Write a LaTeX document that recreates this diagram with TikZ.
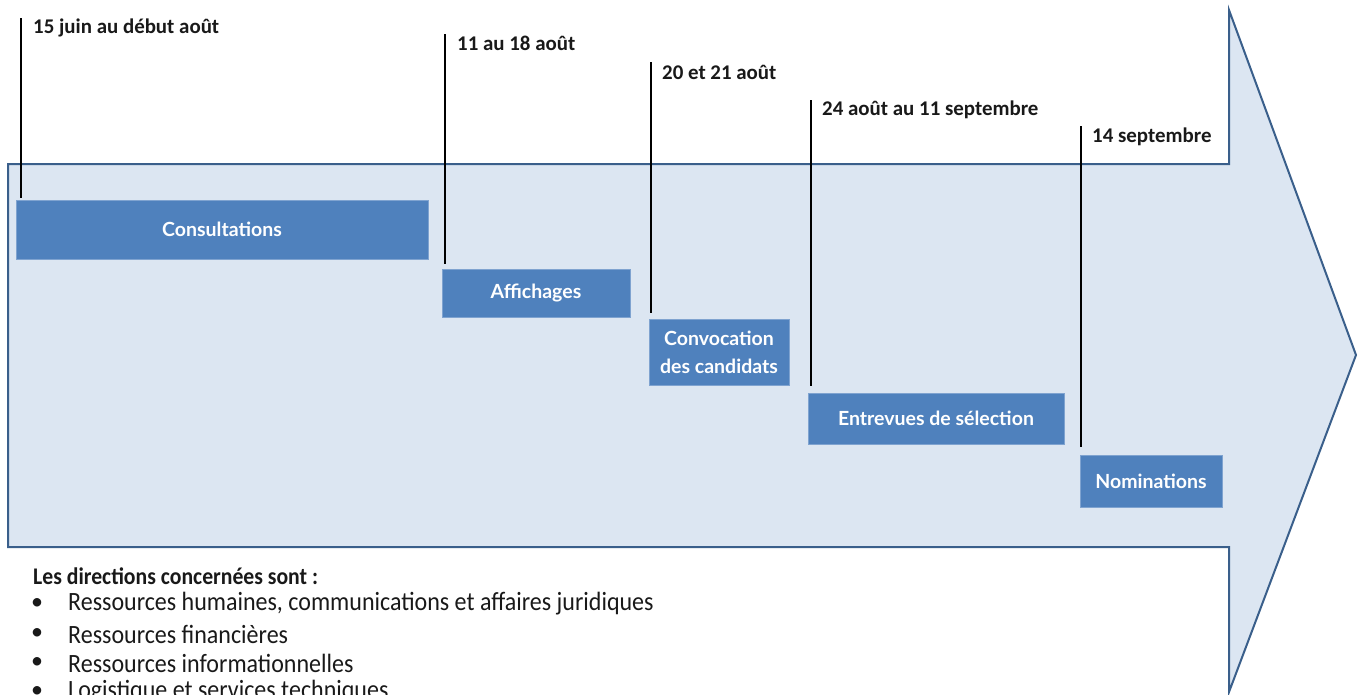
\documentclass[tikz,border=0pt]{standalone}
\usepackage{graphicx}
\usepackage{fontspec}
\setmainfont{Carlito}
\newfontfamily\boxfont{Lato}
\definecolor{arrowfill}{HTML}{DCE6F2}
\definecolor{arrowline}{HTML}{3A5F8B}
\definecolor{boxfill}{HTML}{4F81BD}
\definecolor{boxline}{HTML}{7FA3D0}
\newcommand{\tallertext}[1]{\scalebox{1}[1.1]{#1}}
\tikzset{
  stepbox/.style={draw=boxline, line width=0.8pt, fill=boxfill, text=white, inner sep=0pt,
    font=\boxfont\bfseries\fontsize{19.5}{28}\selectfont, align=center},
  datelabel/.style={anchor=west, inner sep=0pt, font=\bfseries\fontsize{20.9}{24}\selectfont, text=black!90},
  tick/.style={draw=black, line width=1.3pt},
  listtext/.style={anchor=west, inner sep=0pt, font=\fontsize{24}{28}\selectfont, text=black!90}
}
\begin{document}
\begin{tikzpicture}[x=1pt, y=-1pt]
\useasboundingbox (0,0) rectangle (1358,694);
\clip (0,0) rectangle (1358,694);
% big arrow
\draw[fill=arrowfill, draw=arrowline, line width=2pt, line join=miter]
  (8,164) -- (1229,164) -- (1229,10) -- (1356,355) -- (1229,692) -- (1229,547) -- (8,547) -- cycle;
% boxes
\node[stepbox, minimum width=412pt, minimum height=59pt] (b1) at (222,229.5) {Consultations};
\node[stepbox, minimum width=188pt, minimum height=48pt] (b2) at (536,293) {Affichages};
\node[stepbox, minimum width=140pt, minimum height=66pt] (b3) at (719,352) {Convocation\\des candidats};
\node[stepbox, minimum width=256pt, minimum height=51pt] (b4) at (936,418.5) {Entrevues de sélection};
\node[stepbox, minimum width=142pt, minimum height=52pt] (b5) at (1151,481) {Nominations};
% ticks
\coordinate (t1) at (21,18);   \coordinate (e1) at (21,198);
\coordinate (t2) at (445,34);  \coordinate (e2) at (445,264);
\coordinate (t3) at (651,62);  \coordinate (e3) at (651,313);
\coordinate (t4) at (811,100); \coordinate (e4) at (811,386);
\coordinate (t5) at (1081,126);\coordinate (e5) at (1081,447);
\draw[tick] (t1) -- (e1);
\draw[tick] (t2) -- (e2);
\draw[tick] (t3) -- (e3);
\draw[tick] (t4) -- (e4);
\draw[tick] (t5) -- (e5);
% date labels
\node[datelabel] (d1) at (33,28) {15 juin au début août};
\node[datelabel] (d2) at (457,43) {11 au 18 août};
\node[datelabel] (d3) at (662,72) {20 et 21 août};
\node[datelabel] (d4) at (822,110) {24 août au 11 septembre};
\node[datelabel] (d5) at (1092,137) {14 septembre};
% list
\node[listtext, font=\bfseries\fontsize{21.7}{26}\selectfont] (h) at (33,576) {\tallertext{Les directions concernées sont :}};
\foreach \y/\t [count=\i] in {604/{Ressources humaines, communications et affaires juridiques},
  634/{Ressources financières}, 663/{Ressources informationnelles}, 692/{Logistique et services techniques}}{
  \node[listtext] (bul\i) at (31,\y) {•};
  \node[listtext] (l\i) at (68,\y) {\tallertext{\t}};
}
\end{tikzpicture}
\end{document}
